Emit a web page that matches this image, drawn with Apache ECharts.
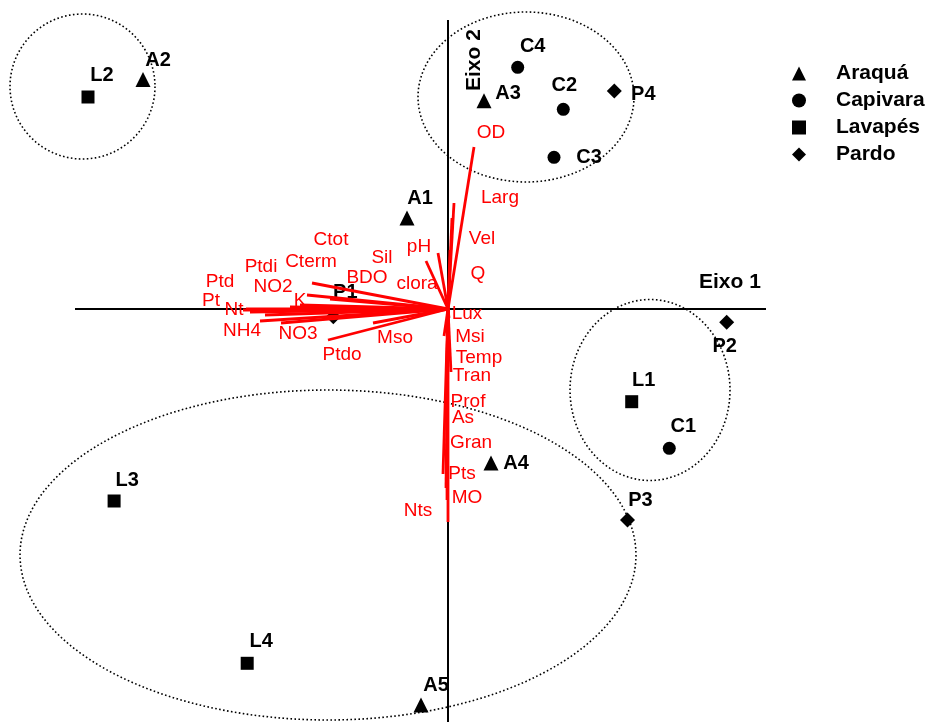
<!DOCTYPE html>
<html><head><meta charset="utf-8">
<script src="https://cdn.jsdelivr.net/npm/echarts@6/dist/echarts.min.js"></script>
<style>html,body{margin:0;padding:0;background:#fff}#c{width:933px;height:722px}</style>
</head><body><div id="c"></div>
<script>
// Sample scores [name, axis1, axis2]
const araqua   = [['A1',-0.41,0.91],['A2',-3.05,2.295],['A3',0.36,2.083],['A4',0.43,-1.54],['A5',-0.27,-3.96]];
const capivara = [['C1',2.213,-1.393],['C2',1.153,1.997],['C3',1.06,1.517],['C4',0.697,2.417]];
const lavapes  = [['L1',1.837,-0.927],['L2',-3.60,2.12],['L3',-3.339,-1.92],['L4',-2.008,-3.543]];
const pardo    = [['P1',-1.147,-0.077],['P2',2.787,-0.133],['P3',1.795,-2.11],['P4',1.663,2.18]];
const groupNames = ['Araquá','Capivara','Lavapés','Pardo'];

// Environmental variable vectors [name, axis1, axis2]
const vectors = [
  ['OD',0.26,1.62],['Larg',0.06,1.06],['Vel',0.04,0.91],['Q',0.02,0.59],['pH',-0.10,0.56],['clora',-0.22,0.48],
  ['Sil',-1.36,0.26],['BDO',-1.41,0.14],['K',-1.18,0.10],['Ctot',-1.48,0.04],['Cterm',-1.58,0.02],['Ptdi',-1.78,-0.02],
  ['Ptd',-2.02,0.00],['Pt',-2.05,-0.01],['Nt',-1.98,-0.03],['NO2',-1.83,-0.06],['NH4',-1.88,-0.12],['NO3',-1.67,-0.14],
  ['Ptdo',-1.20,-0.31],['Mso',-0.75,-0.14],['Lux',0.01,-0.09],['Msi',-0.04,-0.27],['Temp',-0.01,-0.51],['Tran',0.03,-0.63],
  ['Prof',-0.02,-1.01],['As',-0.01,-1.21],['Gran',-0.05,-1.65],['Pts',-0.02,-1.79],['MO',0.00,-2.13],['Nts',-0.01,-1.91]
];
// Where each variable's name is written [name, axis1, axis2]
const vectorLabelAt = [
  ['Ctot',-1.17,0.69],['Cterm',-1.37,0.47],['Ptdi',-1.87,0.42],['Sil',-0.66,0.51],['pH',-0.29,0.62],['BDO',-0.81,0.31],
  ['clora',-0.31,0.25],['Ptd',-2.28,0.27],['NO2',-1.75,0.22],['K',-1.48,0.08],['Pt',-2.37,0.08],['Nt',-2.14,-0.01],
  ['NH4',-2.06,-0.22],['NO3',-1.50,-0.25],['Mso',-0.53,-0.29],['Ptdo',-1.06,-0.46],['OD',0.43,1.76],['Larg',0.52,1.11],
  ['Vel',0.34,0.70],['Q',0.30,0.35],['Lux',0.19,-0.05],['Msi',0.22,-0.28],['Temp',0.31,-0.49],['Tran',0.24,-0.67],
  ['Prof',0.20,-0.93],['As',0.15,-1.09],['Gran',0.23,-1.34],['Pts',0.14,-1.65],['MO',0.19,-1.89],['Nts',-0.30,-2.02]
];
// Group ellipses [centre axis1, centre axis2, radius axis1, radius axis2]
const ellipses = [[-3.655,2.225,0.725,0.725],[0.78,2.12,1.08,0.85],[2.02,-0.81,0.80,0.905],[-1.20,-2.46,3.08,1.65]];
// Axis extents
const axis1Extent = [-3.73, 3.18];
const axis2Extent = [-4.13, 2.89];

// label offsets (style) for sample names, pixels
const labelOffset = {A1:[13,-20],A2:[15,-19],A3:[24,-7],A4:[25,0],A5:[15,-20],C1:[14,-22],C2:[1,-24],C3:[35,0],C4:[15,-21],
  L1:[12,-21],L2:[14,-22],L3:[13,-21],L4:[14,-22],P1:[12,-24],P2:[-2,24],P3:[13,-20],P4:[29,3]};

const FONT = '"Liberation Sans", Arial, sans-serif';
const symbols = ['triangle','circle','rect','diamond'];
const sizes = [15,13,13,15];
const sets = [araqua,capivara,lavapes,pardo];

const series = [];
series.push({type:'custom', name:'ellipses', z:1, silent:true,
  data: ellipses,
  renderItem(params, api){
    const c = api.coord([api.value(0), api.value(1)]);
    const s = api.size([api.value(2), api.value(3)]);
    const pts = [];
    for (let i=0;i<=180;i++){ const t=i/180*Math.PI*2; pts.push([c[0]+s[0]*Math.cos(t), c[1]+s[1]*Math.sin(t)]); }
    return {type:'polyline', shape:{points:pts}, style:{stroke:'#000', lineWidth:1.6, lineDash:[1.6,2.4], fill:null}};
  }});
series.push({type:'line', name:'ax1', z:2, silent:true, symbol:'none', data:[[axis1Extent[0],0],[axis1Extent[1],0]], lineStyle:{color:'#000', width:2}});
series.push({type:'line', name:'ax2', z:2, silent:true, symbol:'none', data:[[0,axis2Extent[0]],[0,axis2Extent[1]]], lineStyle:{color:'#000', width:2}});
sets.forEach((d,i)=>{
  series.push({type:'scatter', name:groupNames[i], z:3, symbol:symbols[i], symbolSize:sizes[i],
    itemStyle:{color:'#000', opacity:1},
    data: d.map(r=>({name:r[0], value:[r[1],r[2]],
      label:{show:true, position:'inside', offset:labelOffset[r[0]], formatter:r[0], color:'#000', opacity:1,
        textBorderWidth:0, fontFamily:FONT, fontWeight:'bold', fontSize:20}}))
  });
});
series.push({type:'custom', name:'vectors', z:5, silent:true,
  data: vectors.map(v=>[v[1],v[2]]),
  renderItem(params, api){
    const o = api.coord([0,0]);
    const p = api.coord([api.value(0), api.value(1)]);
    return {type:'line', shape:{x1:o[0],y1:o[1],x2:p[0],y2:p[1]}, style:{stroke:'#ff0000', lineWidth:2.8}};
  }});
series.push({type:'scatter', name:'vlabels', z:6, silent:true, symbolSize:0,
  itemStyle:{opacity:1},
  data: vectorLabelAt.map(v=>({name:v[0], value:[v[1],v[2]]})),
  label:{show:true, position:'inside', formatter:p=>p.name, color:'#ff0000', opacity:1, textBorderWidth:0, fontFamily:FONT, fontSize:19}
});

const chart = echarts.init(document.getElementById('c'), null, {renderer:'canvas'});
chart.setOption({
  animation:false,
  backgroundColor:'#fff',
  grid:{left:0,right:0,top:0,bottom:0,containLabel:false},
  xAxis:{type:'value', min:-4.48, max:4.85, show:false},
  yAxis:{type:'value', min:-4.13, max:3.09, show:false},
  legend:{data:groupNames.map((n,i)=>({name:n, icon:symbols[i]})), orient:'vertical', left:787, top:58,
    itemWidth:14, itemHeight:14, itemGap:6, selectedMode:false,
    itemStyle:{color:'#000', opacity:1},
    textStyle:{color:'#000', fontFamily:FONT, fontWeight:'bold', fontSize:21, lineHeight:20, padding:[0,0,0,25]}},
  graphic:[
    {type:'text', left:699, top:272, style:{text:'Eixo 1', font:'bold 21px '+FONT, fill:'#000'}},
    {type:'text', x:464, y:91, rotation:Math.PI/2, style:{text:'Eixo 2', font:'bold 21px '+FONT, fill:'#000'}}
  ],
  series
});
</script></body></html>
